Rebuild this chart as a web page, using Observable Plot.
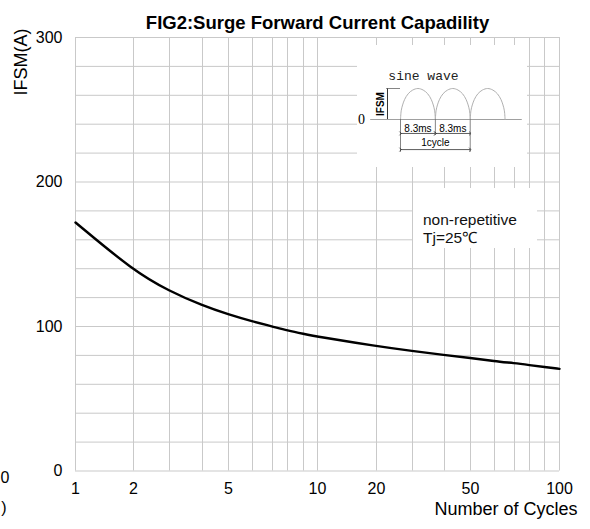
<!DOCTYPE html>
<html><head><meta charset="utf-8">
<script src="https://cdn.jsdelivr.net/npm/d3@7"></script>
<script src="https://cdn.jsdelivr.net/npm/@observablehq/plot@0.6"></script>
<style>
body{margin:0;background:#fff;font-family:"Liberation Sans",Arial,sans-serif;}
#wrap{position:relative;width:590px;height:529px;overflow:hidden;background:#fff;}
#chart{position:absolute;left:0;top:0;}
#ylab{position:absolute;left:21px;top:62px;transform:translate(-50%,-50%) rotate(-90deg);font-size:18px;white-space:nowrap;color:#000;line-height:1;}
#inset{position:absolute;left:357px;top:45px;width:170px;height:122px;background:#fff;}
#note{position:absolute;left:413px;top:188px;width:124px;height:60px;background:#fff;font-size:15.5px;color:#111;}
#note div{position:absolute;left:10px;top:23px;line-height:18px;white-space:nowrap;}
</style></head><body>
<div id="wrap"><div id="chart"></div><div id="ylab"></div><div id="inset"></div><div id="note"><div id="noteText"></div></div></div>
<script>
// ---- data ----
const cycles = [1,2,3,4,5,6,7,8,9,10,20,30,40,50,60,70,80,90,100];
const ifsm   = [172,138.5,124.4,114.5,108.3,103.5,100,97.2,94.9,93,86.4,83,80.2,78.3,76,74.6,73.3,72,70.7];
const xGrid  = [1,2,3,4,5,6,7,8,9,10,20,30,40,50,60,70,80,90,100];
const xTicks = [1,2,5,10,20,50,100];
const yGrid  = [0,20,40,60,80,100,120,140,160,180,200,220,240,260,280,300];
const yTicks = [0,100,200,300];
const titleText = "FIG2:Surge Forward Current Capadility";
const yLabel = "IFSM(A)";
const xLabel = "Number of Cycles";
const noteLines = ["non-repetitive", "Tj=25\u2103"];

// inset schematic (half-sine arches, in ms)
const archStarts = [0, 8.3, 16.6];
const halfPeriod = 8.3;
const archT = [0,0.02,0.06,0.12,0.22,0.35,0.5,0.65,0.78,0.88,0.94,0.98,1];
const archH = [0,0.28,0.47,0.65,0.83,0.95,1,0.95,0.83,0.65,0.47,0.28,0];
const dimLabels = [{x:4.15, t:"8.3ms"}, {x:12.45, t:"8.3ms"}];

const FONT = '"Liberation Sans", Arial, sans-serif';
const GRID = "#c9c9c9";

const data = cycles.map((c, i) => ({c, v: ifsm[i]}));

const chart = Plot.plot({
  width: 590, height: 529,
  marginTop: 37, marginBottom: 58.5, marginLeft: 75, marginRight: 31,
  style: {fontFamily: FONT, fontSize: "16px", color: "#000", background: "#fff", overflow: "visible"},
  x: {type: "linear", domain: xGrid,
      range: [75,133,169,202,228,252,272,287,303,317,376,412,444,470,494,514,529,544,559]},
  y: {domain: [0, 300]},
  marks: [
    Plot.ruleX(xGrid, {stroke: GRID, strokeWidth: 1}),
    Plot.ruleY(yGrid, {stroke: GRID, strokeWidth: 1}),
    Plot.axisY({ticks: yTicks, tickSize: 0, tickPadding: 13, fontSize: 16, label: null}),
    Plot.axisX({ticks: xTicks, tickSize: 0, tickPadding: 12, fontSize: 16, label: null, tickFormat: d => String(d)}),
    Plot.line(data, {x: "c", y: "v", stroke: "#000", strokeWidth: 2.4, curve: "basis"}),
    Plot.text([titleText], {frameAnchor: "top", dy: -22, fontWeight: "bold", fontSize: 18.5}),
    Plot.text([xLabel], {frameAnchor: "bottom-right", textAnchor: "end", dx: 18, dy: 44, fontSize: 18}),
    Plot.text(["0"], {frameAnchor: "bottom-left", textAnchor: "end", dx: -66, dy: 12, fontSize: 16}),
    Plot.text([")"], {frameAnchor: "bottom-left", textAnchor: "end", dx: -69, dy: 42, fontSize: 16})
  ]
});
document.getElementById("chart").append(chart);

document.getElementById("ylab").textContent = yLabel;
document.getElementById("noteText").innerHTML = noteLines.join("<br>");

// inset
const archPts = archStarts.flatMap((s, k) =>
  archT.map((t, i) => ({k, x: s + t * halfPeriod, y: archH[i]})));
const end = archStarts[2] + halfPeriod;
const inset = Plot.plot({
  width: 170, height: 122, margin: 0,
  style: {fontFamily: FONT, background: "#fff", color: "#000", overflow: "visible"},
  x: {domain: [-10.24, 30.24], range: [0, 170], axis: null},
  y: {domain: [-1.548, 2.387], range: [122, 0], axis: null},
  marks: [
    Plot.ruleY([0], {x1: -7.1, x2: end + 4.1, stroke: "#a0a0a0", strokeWidth: 1}),
    Plot.line(archPts, {x: "x", y: "y", z: "k", stroke: "#b0b0b0", strokeWidth: 1, curve: "catmull-rom"}),
    Plot.ruleX([-3.1], {y1: 0, y2: 1, stroke: "#333", strokeWidth: 1}),
    Plot.ruleY([1], {x1: -3.3, x2: 0, stroke: "#666", strokeWidth: 0.8}),
    Plot.ruleX([archStarts[0], archStarts[2]], {y1: 0, y2: -1.06, stroke: "#666", strokeWidth: 0.8}),
    Plot.ruleX([archStarts[1]], {y1: 0, y2: -0.45, stroke: "#666", strokeWidth: 0.8}),
    Plot.link([{a: archStarts[0], b: archStarts[1]}, {a: archStarts[1], b: archStarts[2]}],
      {x1: "a", x2: "b", y1: -0.45, y2: -0.45, stroke: "#333", strokeWidth: 0.8, markerStart: "arrow", markerEnd: "arrow"}),
    Plot.link([{a: archStarts[0], b: archStarts[2]}],
      {x1: "a", x2: "b", y1: -0.97, y2: -0.97, stroke: "#333", strokeWidth: 0.8, markerStart: "arrow", markerEnd: "arrow"}),
    Plot.text(["sine wave"], {x: -2.9, y: 1.42, textAnchor: "start", fontFamily: '"Liberation Mono", monospace', fontSize: 13, fill: "#222"}),
    Plot.text(["0"], {x: -9.3, y: 0, fontFamily: '"Liberation Serif", serif', fontSize: 14}),
    Plot.text(["IFSM"], {x: -4.8, y: 0.5, rotate: -90, fontWeight: "bold", fontSize: 10}),
    Plot.text(dimLabels, {x: "x", y: -0.29, text: "t", fontSize: 10}),
    Plot.text(["1cycle"], {x: archStarts[1], y: -0.74, fontSize: 10})
  ]
});
document.getElementById("inset").append(inset);
</script>
</body></html>
